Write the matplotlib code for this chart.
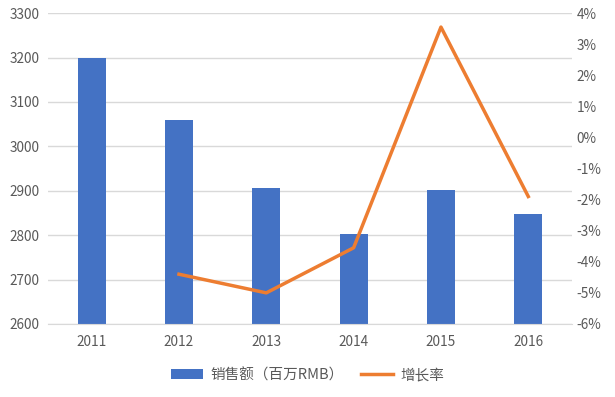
import matplotlib
matplotlib.use("Agg")
import matplotlib.pyplot as plt
from matplotlib.ticker import FuncFormatter

plt.rcParams['font.family'] = ['Noto Sans CJK SC', 'DejaVu Sans']

years = ['2011', '2012', '2013', '2014', '2015', '2016']
sales = [3200, 3060, 2906, 2803, 2902, 2848]
growth_years = ['2012', '2013', '2014', '2015', '2016']
growth = [-4.4, -5.0, -3.55, 3.55, -1.9]

bar_color = '#4472C4'
line_color = '#ED7D31'
text_color = '#595959'
grid_color = '#D9D9D9'

fig = plt.figure(figsize=(6.15, 3.97), dpi=100)
ax = fig.add_axes([0.078, 0.184, 0.852, 0.783])
x = list(range(len(years)))
bars = ax.bar(x, sales, width=0.32, color=bar_color, zorder=2, label='销售额（百万RMB）')
ax.set_ylim(2600, 3300)
ax.set_yticks(range(2600, 3301, 100))
ax.set_xlim(-0.5, len(years) - 0.5)
ax.set_xticks(x)
ax.set_xticklabels(years)
ax.grid(axis='y', color=grid_color, linewidth=1, zorder=0)
for s in ['top', 'left', 'right']:
    ax.spines[s].set_visible(False)
ax.spines['bottom'].set_color(grid_color)
ax.tick_params(axis='both', length=0, colors=text_color, labelsize=9.8)
ax.tick_params(axis='x', pad=8)
ax.tick_params(axis='y', pad=6)

ax2 = ax.twinx()
gx = [years.index(y) for y in growth_years]
line, = ax2.plot(gx, growth, color=line_color, linewidth=2.5, zorder=3, label='增长率')
ax2.set_ylim(-6, 4)
ax2.set_yticks(range(-6, 5, 1))
ax2.yaxis.set_major_formatter(FuncFormatter(lambda v, p: f'{int(v)}%'))
for s in ['top', 'left', 'right', 'bottom']:
    ax2.spines[s].set_visible(False)
ax2.tick_params(axis='y', length=0, colors=text_color, labelsize=9.8)

fig.legend(handles=[bars, line], labels=['销售额（百万RMB）', '增长率'],
           loc='center', bbox_to_anchor=(0.5, 0.055), ncol=2, frameon=False,
           fontsize=10.5, labelcolor=text_color, handlelength=2.2, columnspacing=1.2,
           handletextpad=0.5)

fig.savefig('out.png', dpi=100)
